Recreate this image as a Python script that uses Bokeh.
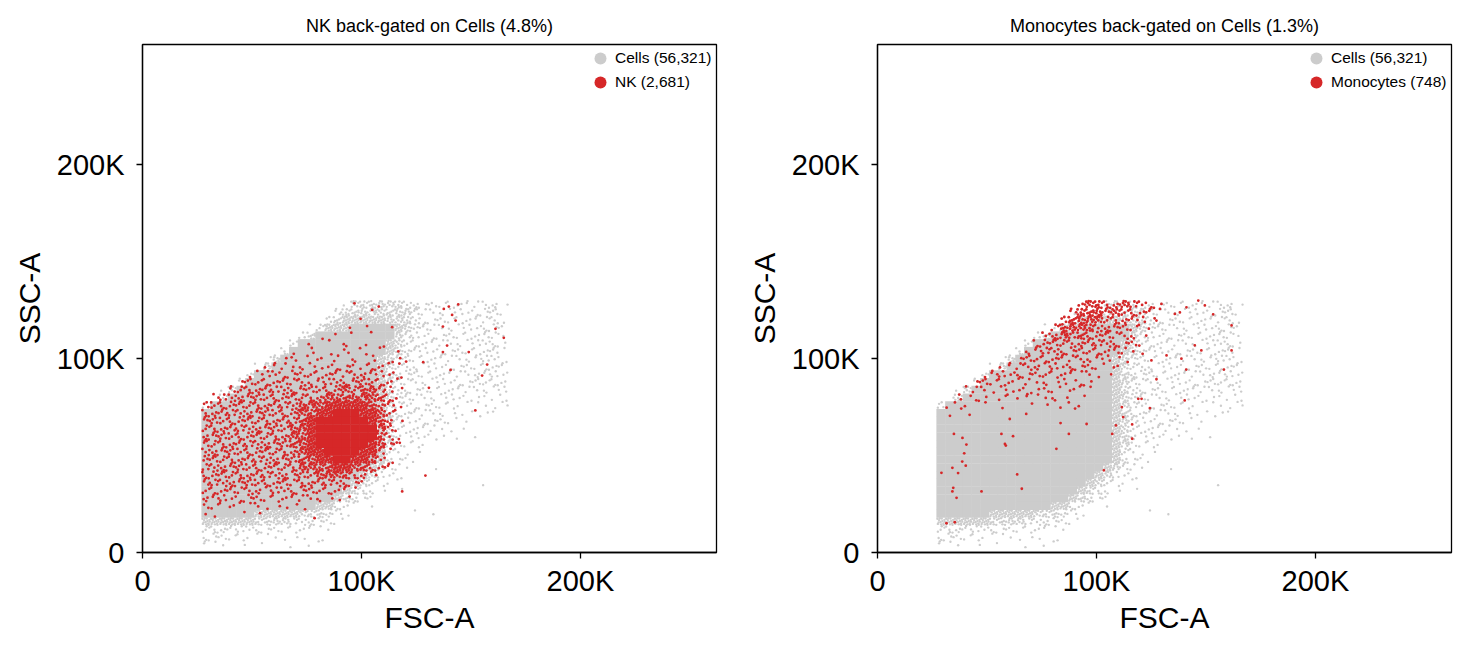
from bokeh.plotting import figure
from bokeh.layouts import row
from bokeh.models import Range1d, FixedTicker, Legend, LegendItem
from bokeh.embed import file_html
from bokeh.resources import INLINE

# Density, 4K x 4K cells.
# columns: FSC-A 27K..167K (centres 29K, 33K, ...), rows: SSC-A 130K down to 2K
# ' ' none, '.' 1 event, ':' 2, '+' 3, '*' 4, 'o' 8, 'O' 13, '#' saturated
cells_grid = [
    "                .oooooo**:::::::++.",
    "               *oooooooo*:::::::++.",
    "              +oOOOOOooo*:::::::++.",
    "            .*OOO#####Oo*+::::::++.",
    "           +o#########o*+:::::::++.",
    "          *##########Oo*+:::::::++.",
    "         *###########Oo*+:::::::++.",
    "       .o###########Oo*+:::::::+++.",
    "      .o############Oo*+::::::::++:",
    "     *##############Oo*++::::::+++:",
    "    *###############Oo*+:::::::+++:",
    "  .o################Oo*+:::::::::::",
    " .o#################Oo*+::::::....:",
    "*###################Oo*+:::::.....:",
    "####################Oo*+::::...... ",
    "####################Oo*:::::...    ",
    "####################Oo+::::...     ",
    "####################Oo+:::.. . .   ",
    "####################Oo:::.         ",
    "####################O*:..          ",
    "####################O*:..          ",
    "###################Oo+:.  .        ",
    "##################Oo+:.            ",
    "#################Oo*:..         .  ",
    "################Oo*:. .            ",
    "###############Oo*:.               ",
    "#############OO*:. .               ",
    "######OOOOOooo*:.       . .        ",
    "OOOOOOoooo***+:..                  ",
    "***++++::::::..                    ",
    "++:::....... .                     ",
    ":.. . .   . ..                      ",
]

nk_grid = [
    "",
    "",
    "",
    "                . .",
    "             . . . .",
    "            . . : . .",
    "          . : . : : . .",
    "         .: .: : : : ..",
    "       .::.::.:::.:+:..",
    "     .::+:+:+:+:++++::.",
    "    :+++++++:++*+***+:.",
    "   +****+*+*+***o*oo*:.",
    " :+***********ooooooo+.",
    "+**********oooOOOOOo*+.",
    "***********ooOO###OOo+.",
    "***********oO######Oo+.",
    "**********ooO#######o+.",
    "**********ooO#######o+.",
    "**********ooO######Oo:.",
    "***********oOO####OO+.",
    "***********ooOO##OOo+.",
    "***********ooooOOoo*+:",
    "**********+**oooo*+:",
    "********+*+*****+:.",
    "+++++++:+++++++::.",
    "+++::+::::::::...",
    "::.:..:.....",
    "..  . .",
]

mono_grid = [
    "                +oo**o*+:.",
    "               +ooo*o**+:",
    "              +oooo***+:.",
    "             +oooo***+:..",
    "            +*o*o***++:.",
    "           +***+****+::.",
    "          :+**+++++:+:..",
    "         :++++:++:+:..",
    "       .:+++:+:+::..:",
    "     .++:+::+:::.:..",
    "    :+:::.:.:.:.:.",
    "   .::.:.:..:..:..",
    "  :.:. :..:..:. .",
    " .:. . .  . . .:.",
    " . .      .",
]

# single events outside the dense part (FSC-A, SSC-A in thousands)
nk_x = [96.8, 104.9, 107.9, 99.6, 114.0, 137.6, 139.9, 144.2, 141.4, 143.0, 137.2, 139.1, 137.2,
        149.0, 161.2, 165.0, 157.4, 155.1, 140.7, 128.2, 130.8, 120.4, 152.0, 129.2, 118.6, 78.6, 117.5]
nk_y = [128.6, 125.2, 126.9, 120.6, 116.3, 125.7, 126.9, 128.0, 122.6, 119.7, 116.6, 106.8, 103.4,
        103.4, 115.4, 110.8, 97.0, 91.3, 94.2, 98.2, 85.0, 98.5, 73.3, 39.7, 31.5, 17.7, 56.6]

mono_x = [34.9, 38.8, 40.6, 39.6, 40.3, 38.7, 29.2, 34.2, 36.8, 34.6, 34.2, 36.1, 31.5, 35.3, 47.5,
          63.8, 65.9, 56.6, 58.2, 58.6, 61.9, 60.4, 81.7, 83.6, 87.4, 95.5, 103.4, 107.2, 108.9, 116.3,
          116.3, 112.2, 111.6, 124.4, 120.6, 119.1, 127.4, 125.1, 132.0, 138.8, 141.0, 144.9, 147.9,
          140.3, 158.2, 161.7, 161.7, 153.3, 149.5, 146.5, 141.1, 138.1, 135.8, 129.0, 127.4]
mono_y = [61.2, 59.1, 55.7, 51.2, 44.8, 46.9, 41.1, 43.7, 41.0, 33.4, 31.5, 28.2, 15.1, 15.6, 31.5,
          40.3, 32.9, 61.2, 56.0, 55.2, 60.0, 68.9, 53.5, 66.8, 61.2, 66.3, 42.4, 61.2, 65.6, 58.7,
          66.1, 69.9, 75.0, 74.5, 79.3, 79.3, 89.4, 99.1, 101.7, 100.0, 94.4, 106.9, 104.3,
          78.5, 94.4, 104.3, 117.2, 122.9, 127.5, 130.0, 126.5, 123.9, 123.1, 125.7, 119.7]

GRAY = "#cccccc"
RED = "#d62728"
FONT = "Liberation Sans"
CELL = 4000
X0, Y0 = 29000, 128000
COUNTS = {".": 1, ":": 2, "+": 3, "*": 4, "o": 8, "O": 13}
# fixed spots inside a cell where events are placed
SPOTS = [(-0.22, 0.18), (0.27, -0.24), (0.08, 0.38), (-0.36, -0.31), (0.39, 0.21), (-0.04, -0.06),
         (-0.41, 0.36), (0.31, -0.43), (0.02, -0.37), (-0.27, -0.12), (0.17, 0.07), (0.43, -0.02),
         (-0.14, 0.43)]


def expand(grid):
    dx, dy, sx, sy = [], [], [], []
    for r, line in enumerate(grid):
        yc = Y0 - CELL * r
        for c, ch in enumerate(line):
            xc = X0 + CELL * c
            if ch == "#":
                sx.append(xc)
                sy.append(yc)
            elif ch in COUNTS:
                k0 = (r * 5 + c * 3) % len(SPOTS)
                for k in range(COUNTS[ch]):
                    ox, oy = SPOTS[(k0 + k) % len(SPOTS)]
                    dx.append(xc + ox * CELL)
                    dy.append(yc + oy * CELL)
    return dx, dy, sx, sy


def legend_row(label, renderer, label_w, x, y):
    return Legend(items=[LegendItem(label=label, renderers=[renderer])],
                  location=(x, y), border_line_alpha=0, background_fill_alpha=0,
                  label_text_font=FONT, label_text_font_size="15.5px", label_text_color="black",
                  glyph_width=30, glyph_height=30, label_height=30, label_width=label_w,
                  label_standoff=-4, spacing=0, padding=0, margin=0)


def panel(title, red_grid, extra_x, extra_y, label, label_w, legend_x, width, left, right):
    p = figure(width=width, height=643, x_range=Range1d(0, 262144), y_range=Range1d(0, 262144),
               output_backend="svg", toolbar_location=None,
               min_border_left=left, min_border_right=right, min_border_top=44, min_border_bottom=91)
    p.title.text = title
    p.title.text_font = FONT
    p.title.text_font_size = "18px"
    p.title.text_font_style = "normal"
    p.title.text_color = "black"
    p.title.align = "center"
    p.title.standoff = 17
    p.xgrid.visible = False
    p.ygrid.visible = False
    p.outline_line_color = "black"
    p.outline_line_width = 1.3
    p.outline_line_alpha = 1

    gx, gy, gsx, gsy = expand(cells_grid)
    p.rect(gsx, gsy, width=CELL * 1.05, height=CELL * 1.05, fill_color=GRAY, line_color=None)
    g = p.scatter(gx, gy, size=2.4, fill_color=GRAY, line_color=None)

    rx, ry, rsx, rsy = expand(red_grid)
    rx += [v * 1000 for v in extra_x]
    ry += [v * 1000 for v in extra_y]
    p.rect(rsx, rsy, width=CELL * 1.05, height=CELL * 1.05, fill_color=RED, line_color=None)
    rd = p.scatter(rx, ry, size=2.8, fill_color=RED, line_color=None)

    for ax, name in ((p.xaxis[0], "FSC-A"), (p.yaxis[0], "SSC-A")):
        ax.ticker = FixedTicker(ticks=[0, 100000, 200000], minor_ticks=[])
        ax.major_label_overrides = {0: "0", 100000: "100K", 200000: "200K"}
        ax.axis_label = name
        ax.axis_label_text_font = FONT
        ax.axis_label_text_font_size = "30px"
        ax.axis_label_text_font_style = "normal"
        ax.axis_label_text_color = "black"
        ax.major_label_text_font = FONT
        ax.major_label_text_font_size = "29px"
        ax.major_label_text_color = "black"
        ax.axis_line_width = 1.3
        ax.axis_line_color = "black"
        ax.major_tick_line_width = 1.3
        ax.major_tick_line_color = "black"
        ax.major_tick_out = 6
        ax.major_tick_in = 0
    p.xaxis[0].major_label_standoff = 6
    p.xaxis[0].axis_label_standoff = 1
    p.yaxis[0].major_label_standoff = 12
    p.yaxis[0].axis_label_standoff = 8
    p.yaxis[0].major_label_orientation = "horizontal"

    # two one-row legends stacked in the top right corner of the frame
    p.add_layout(legend_row("Cells (56,321)", g, label_w, legend_x, 479))
    p.add_layout(legend_row(label, rd, label_w, legend_x, 455))
    return p


p1 = panel("NK back-gated on Cells (4.8%)", nk_grid, nk_x, nk_y, "NK (2,681)", 104, 443, 743, 142, 27)
p2 = panel("Monocytes back-gated on Cells (1.3%)", mono_grid, mono_x, mono_y, "Monocytes (748)", 119, 424,
           717, 134, 9)
p = row(p1, p2)

open("out.html", "w").write(file_html(p, INLINE))
